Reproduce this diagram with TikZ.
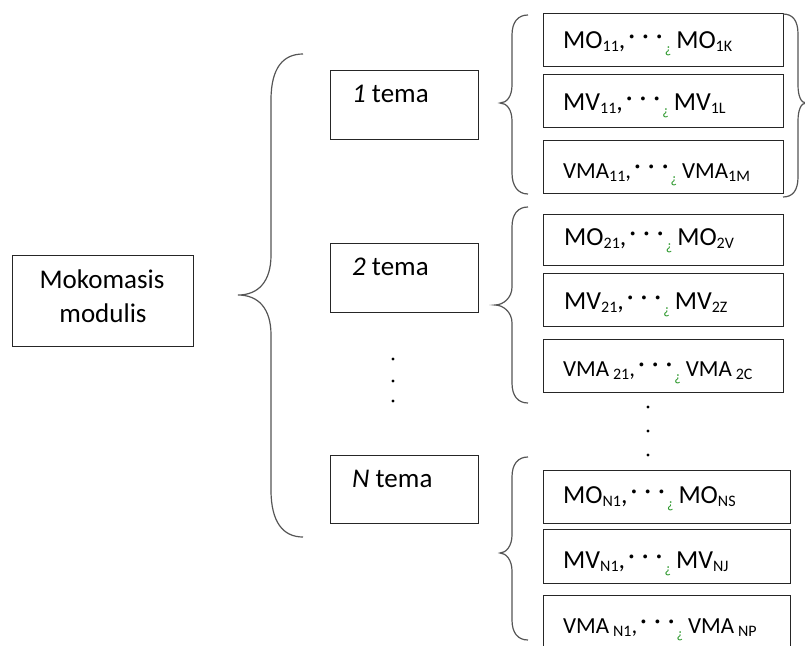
\documentclass[tikz,border=0pt]{standalone}
\usepackage{fontspec}
\setmainfont{Carlito}
\definecolor{squig}{RGB}{40,150,40}
\definecolor{bracecol}{RGB}{85,85,85}
\newcommand{\sbx}[1]{\raisebox{-3pt}{\fontsize{16}{16}\selectfont #1}}
\newcommand{\onedt}{\raisebox{4pt}{\fontsize{27}{27}\selectfont\textperiodcentered}}
\newcommand{\mdts}{\hspace{3pt}\onedt\hspace{7pt}\onedt\hspace{7pt}\onedt\hspace{2pt}}
\newcommand{\sq}{\raisebox{-5pt}{\fontsize{14}{14}\selectfont\color{squig}¿}\hspace{5pt}}
\begin{document}
\begin{tikzpicture}[x=1pt,y=-1pt,
  box/.style={draw=black!85, line width=1.3pt, rectangle, inner sep=0pt, anchor=north west},
  lbl/.style={anchor=base west, inner sep=0pt, font=\fontsize{27}{32}\selectfont},
  itm/.style={anchor=base west, inner sep=0pt, font=\fontsize{26}{30}\selectfont},
  itms/.style={anchor=base west, inner sep=0pt, font=\fontsize{23}{28}\selectfont},
  brc/.style={draw=bracecol, line width=1.2pt},
  dotc/.style={fill=black}]
\useasboundingbox (0,0) rectangle (805,645);

% boxes
\node[box, minimum width=181pt, minimum height=91pt] (mok) at (12,255) {};
\node[box, minimum width=148pt, minimum height=69pt] (t1) at (330,70) {};
\node[box, minimum width=148pt, minimum height=69pt] (t2) at (330,243) {};
\node[box, minimum width=148pt, minimum height=68pt] (tN) at (330,455) {};

\node[box, minimum width=240pt, minimum height=53pt] (mo1) at (543,13) {};
\node[box, minimum width=240pt, minimum height=53pt] (mv1) at (543,74) {};
\node[box, minimum width=240pt, minimum height=53pt] (vma1) at (543,140) {};
\node[box, minimum width=240pt, minimum height=51pt] (mo2) at (543,214) {};
\node[box, minimum width=240pt, minimum height=53pt] (mv2) at (543,273) {};
\node[box, minimum width=240pt, minimum height=53pt] (vma2) at (543,339) {};
\node[box, minimum width=247pt, minimum height=53pt] (moN) at (543,470) {};
\node[box, minimum width=247pt, minimum height=54pt] (mvN) at (543,529) {};
\node[box, minimum width=247pt, minimum height=60pt] (vmaN) at (543,595) {};

% texts
\node[anchor=base, inner sep=0pt, font=\fontsize{27}{32}\selectfont] (mokA) at (102,288) {Mokomasis};
\node[anchor=base, inner sep=0pt, font=\fontsize{27}{32}\selectfont] (mokB) at (103,322) {modulis};
\node[lbl] (t1l) at (352,102) {\textit{1} tema};
\node[lbl] (t2l) at (352,275) {\textit{2} tema};
\node[lbl] (tNl) at (352,487) {\textit{N} tema};

\node[itm] (mo1l) at (563,48) {MO\sbx{11},\mdts\sq MO\sbx{1K}};
\node[itm] (mv1l) at (563,110) {MV\sbx{11},\mdts\sq MV\sbx{1L}};
\node[itms] (vma1l) at (563,178) {VMA\sbx{11},\mdts\sq VMA\sbx{1M}};
\node[itm] (mo2l) at (564,245) {MO\sbx{21},\mdts\sq MO\sbx{2V}};
\node[itm] (mv2l) at (564,309) {MV\sbx{21},\mdts\sq MV\sbx{2Z}};
\node[itms] (vma2l) at (563,376) {VMA\,\sbx{21},\mdts\sq VMA\,\sbx{2C}};
\node[itm] (moNl) at (563,503) {MO\sbx{N1},\mdts\sq MO\sbx{NS}};
\node[itm] (mvNl) at (563,568) {MV\sbx{N1},\mdts\sq MV\sbx{NJ}};
\node[itms] (vmaNl) at (563,633) {VMA\,\sbx{N1},\mdts\sq VMA\,\sbx{NP}};

% big brace
\draw[brc] (303,54) .. controls (283,54) and (271,68) .. (271,100) -- (271,255)
  .. controls (271,282) and (258,295) .. (238,295)
  .. controls (258,295) and (271,308) .. (271,335) -- (271,490)
  .. controls (271,522) and (283,537) .. (303,537);

% group 1 left brace
\draw[brc] (528,15) .. controls (518,15) and (512,22) .. (512,35) -- (512,85)
  .. controls (512,96) and (507,103) .. (500,103)
  .. controls (507,103) and (512,110) .. (512,121) -- (512,173)
  .. controls (512,186) and (518,194) .. (528,194);
% group 1 right brace
\draw[brc] (783,14) .. controls (793,14) and (798,21) .. (798,34) -- (798,85)
  .. controls (798,96) and (801,103) .. (806,103)
  .. controls (801,103) and (798,110) .. (798,121) -- (798,177)
  .. controls (798,190) and (793,197) .. (783,197);

% group 2 left brace
\draw[brc] (528,207) .. controls (518,207) and (512,214) .. (512,227) -- (512,287)
  .. controls (512,298) and (503,305) .. (495,305)
  .. controls (503,305) and (512,312) .. (512,323) -- (512,383)
  .. controls (512,396) and (518,403) .. (528,403);

% group N left brace
\draw[brc] (528,457) .. controls (518,457) and (512,464) .. (512,477) -- (512,535)
  .. controls (512,546) and (506,553) .. (500,553)
  .. controls (506,553) and (512,560) .. (512,571) -- (512,620)
  .. controls (512,633) and (518,640) .. (528,640);

% vertical dots
\fill[dotc] (393,359) circle (1.6) (393,381) circle (1.6) (393,401) circle (1.6);
\fill[dotc] (648,407) circle (1.6) (648,431) circle (1.6) (648,455) circle (1.6);
\end{tikzpicture}
\end{document}
